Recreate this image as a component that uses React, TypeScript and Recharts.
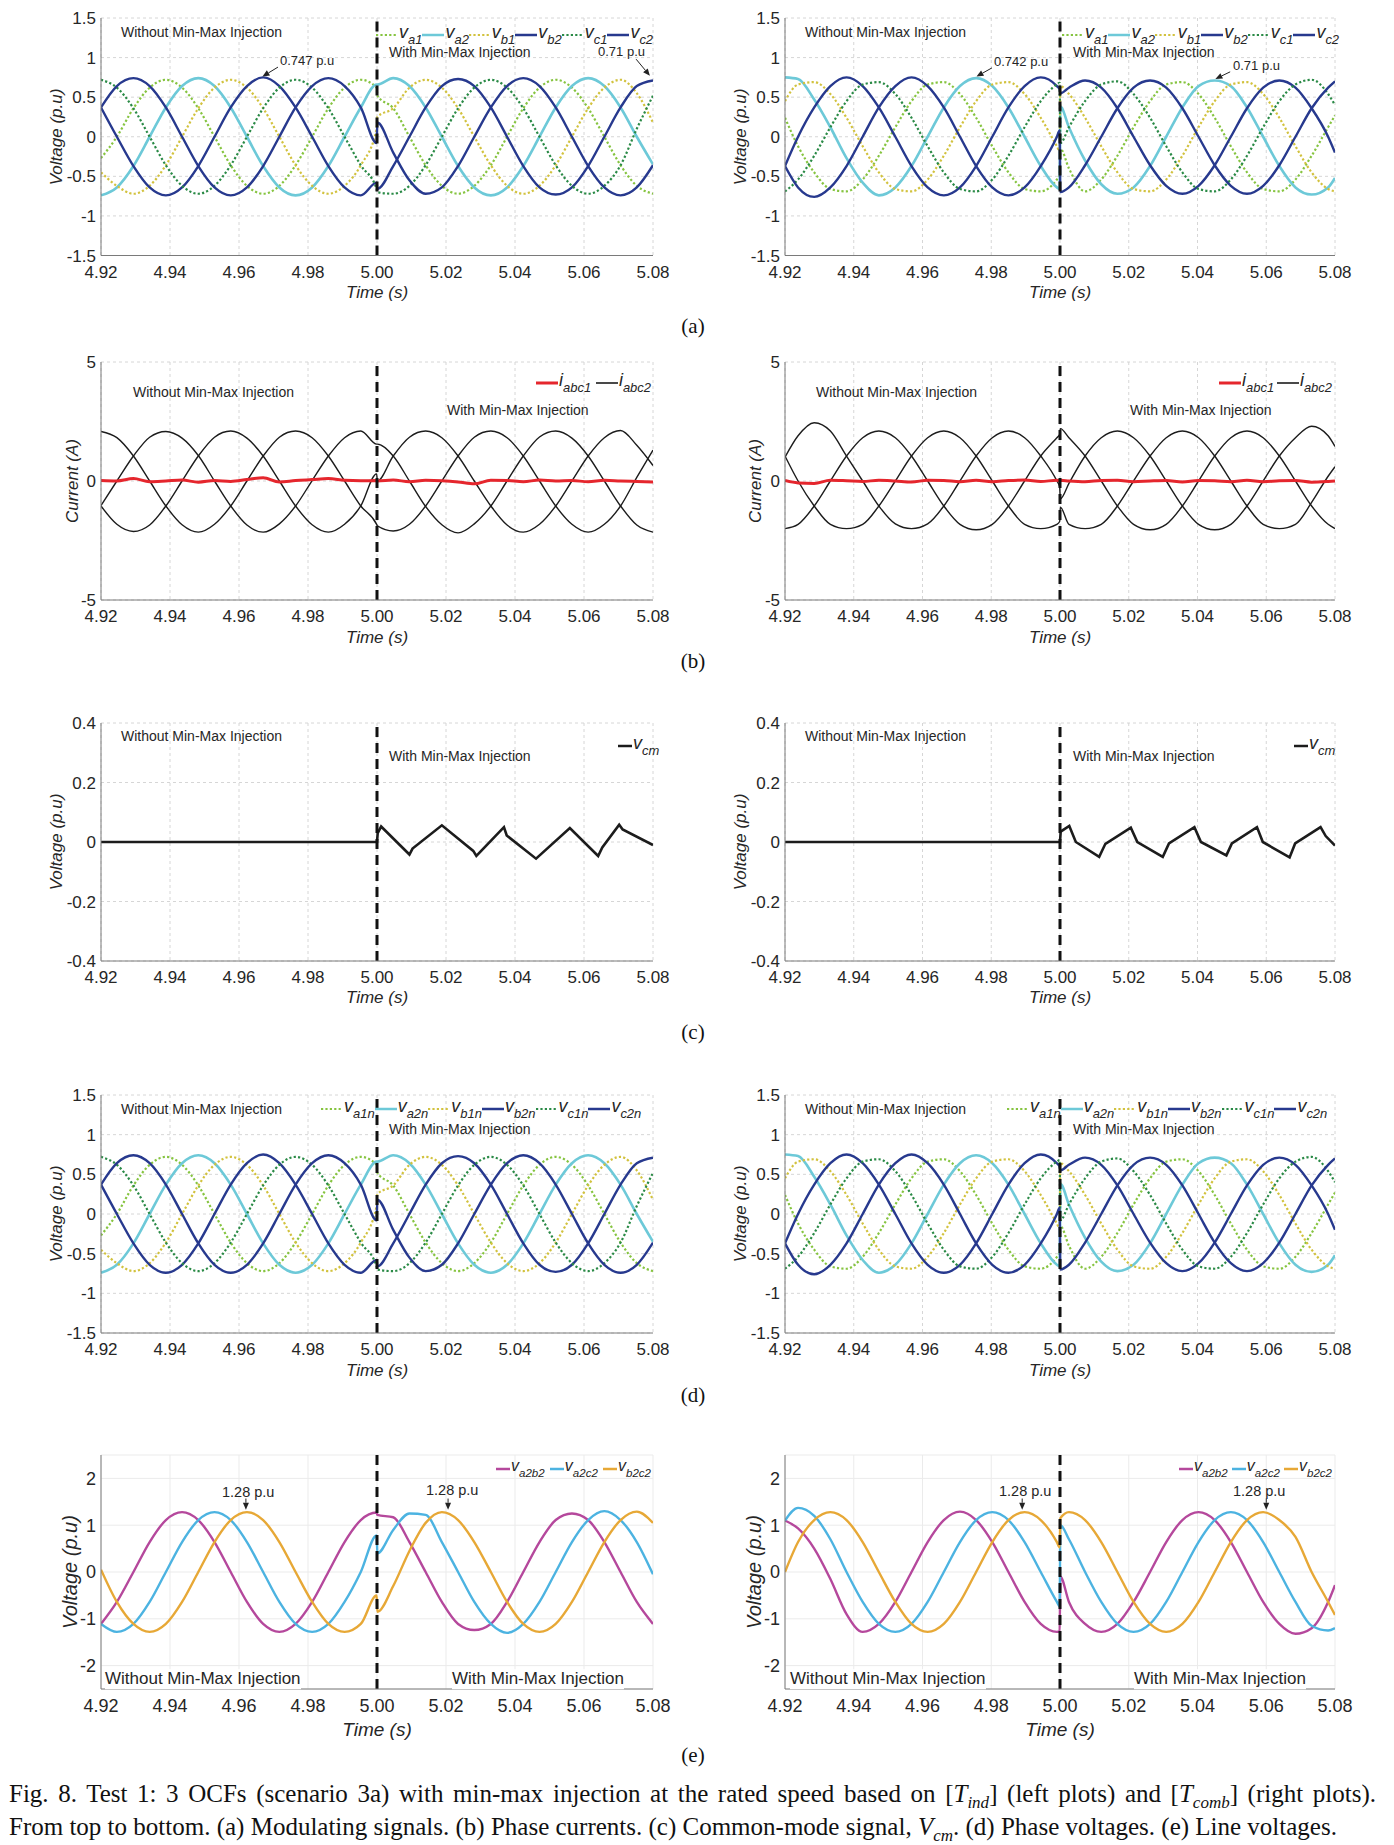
import React from 'react';
import { LineChart, Line, XAxis, YAxis, CartesianGrid, ReferenceLine } from 'recharts';

// axes
const X_TICKS = [4.92, 4.94, 4.96, 4.98, 5.0, 5.02, 5.04, 5.06, 5.08];
const Y_TICKS_V = [-1.5, -1, -0.5, 0, 0.5, 1, 1.5];
const Y_TICKS_I = [-5, 0, 5];
const Y_TICKS_CM = [-0.4, -0.2, 0, 0.2, 0.4];
const Y_TICKS_LL = [-2, -1, 0, 1, 2];

// sample times (about every 30 deg, plus both sides of the 5.00 s switch)
const T_LEFT = [4.92, 4.9246, 4.9294, 4.9341, 4.9388, 4.9435, 4.9482, 4.9529, 4.9576, 4.9623, 4.967, 4.9717, 4.9764, 4.9812, 4.9859, 4.9906, 4.9953, 4.9999, 5.0001, 5.0047, 5.0094, 5.0141, 5.0188, 5.0235, 5.0282, 5.033, 5.0377, 5.0424, 5.0471, 5.0518, 5.0565, 5.0612, 5.0659, 5.0706, 5.0753, 5.08];
const T_RIGHT = [4.92, 4.9238, 4.9285, 4.9332, 4.9379, 4.9426, 4.9473, 4.9521, 4.9568, 4.9615, 4.9662, 4.9709, 4.9756, 4.9803, 4.985, 4.9897, 4.9944, 4.9991, 4.9999, 5.0001, 5.0026, 5.0073, 5.012, 5.0167, 5.0214, 5.0262, 5.0309, 5.0356, 5.0403, 5.045, 5.0497, 5.0544, 5.0591, 5.0638, 5.0685, 5.0732, 5.078, 5.08];

// (a)/(d) modulating signals / phase voltages, [T_ind]
const VA1_L = [-0.27, 0, 0.36, 0.62, 0.72, 0.62, 0.36, 0, -0.36, -0.62, -0.72, -0.62, -0.36, 0, 0.36, 0.62, 0.72, 0.62, 0.52, 0.36, 0, -0.36, -0.62, -0.72, -0.62, -0.36, 0, 0.36, 0.62, 0.72, 0.62, 0.36, 0, -0.36, -0.62, -0.72];
const VA2_L = [-0.74, -0.64, -0.37, 0, 0.37, 0.64, 0.74, 0.64, 0.37, 0, -0.37, -0.64, -0.74, -0.64, -0.37, 0, 0.37, 0.66, 0.66, 0.74, 0.64, 0.37, 0, -0.37, -0.64, -0.74, -0.64, -0.37, 0, 0.37, 0.64, 0.74, 0.64, 0.37, 0, -0.35];
const VB1_L = [-0.45, -0.62, -0.72, -0.62, -0.36, 0, 0.36, 0.62, 0.72, 0.62, 0.36, 0, -0.36, -0.62, -0.72, -0.62, -0.36, 0.1, 0.25, 0.36, 0.62, 0.72, 0.62, 0.36, 0, -0.36, -0.62, -0.72, -0.62, -0.36, 0, 0.36, 0.62, 0.72, 0.55, 0.18];
const VB2_L = [0.37, 0, -0.37, -0.64, -0.74, -0.64, -0.37, 0, 0.37, 0.64, 0.75, 0.64, 0.37, 0, -0.37, -0.64, -0.74, -0.58, -0.66, -0.37, 0, 0.37, 0.64, 0.73, 0.64, 0.37, 0, -0.37, -0.64, -0.73, -0.64, -0.37, 0, 0.37, 0.64, 0.71];
const VC1_L = [0.72, 0.62, 0.36, 0, -0.36, -0.62, -0.72, -0.62, -0.36, 0, 0.36, 0.62, 0.72, 0.62, 0.36, 0, -0.36, -0.66, -0.7, -0.72, -0.62, -0.36, 0, 0.36, 0.62, 0.72, 0.62, 0.36, 0, -0.36, -0.62, -0.72, -0.62, -0.36, 0.1, 0.52];
const VC2_L = [0.37, 0.64, 0.74, 0.64, 0.37, 0, -0.37, -0.64, -0.74, -0.64, -0.37, 0, 0.37, 0.64, 0.74, 0.64, 0.37, -0.08, 0.18, -0.2, -0.55, -0.72, -0.64, -0.37, 0, 0.37, 0.64, 0.74, 0.64, 0.37, 0, -0.37, -0.64, -0.74, -0.64, -0.36];

// (a)/(d) [T_comb]
const VA1_R = [0.24, -0.12, -0.45, -0.66, -0.69, -0.54, -0.24, 0.12, 0.45, 0.66, 0.69, 0.54, 0.24, -0.12, -0.45, -0.66, -0.69, -0.54, -0.49, -0.15, -0.4, -0.69, -0.54, -0.24, 0.12, 0.45, 0.66, 0.69, 0.54, 0.24, -0.12, -0.45, -0.66, -0.69, -0.54, -0.24, 0.12, 0.27];
const VA2_R = [0.75, 0.73, 0.47, 0.12, -0.27, -0.58, -0.74, -0.64, -0.37, 0, 0.37, 0.64, 0.74, 0.64, 0.37, 0, -0.37, -0.64, -0.66, 0.38, 0.12, -0.3, -0.6, -0.72, -0.64, -0.37, 0, 0.37, 0.64, 0.71, 0.64, 0.37, 0, -0.37, -0.64, -0.73, -0.64, -0.52];
const VB1_R = [0.45, 0.66, 0.69, 0.54, 0.24, -0.12, -0.45, -0.66, -0.69, -0.54, -0.24, 0.12, 0.45, 0.66, 0.69, 0.54, 0.24, -0.12, -0.18, 0.64, 0.54, 0.24, -0.12, -0.45, -0.66, -0.69, -0.54, -0.24, 0.12, 0.45, 0.66, 0.69, 0.54, 0.24, -0.12, -0.45, -0.66, -0.69];
const VB2_R = [-0.37, 0, 0.37, 0.64, 0.75, 0.64, 0.37, 0, -0.37, -0.64, -0.74, -0.64, -0.37, 0, 0.37, 0.64, 0.75, 0.64, 0.6, 0.55, 0.62, 0.71, 0.62, 0.36, 0, -0.36, -0.62, -0.72, -0.62, -0.36, 0, 0.36, 0.62, 0.71, 0.62, 0.36, 0, -0.2];
const VC1_R = [-0.69, -0.54, -0.24, 0.12, 0.45, 0.66, 0.69, 0.54, 0.24, -0.12, -0.45, -0.66, -0.69, -0.54, -0.24, 0.12, 0.45, 0.66, 0.68, -0.08, 0.12, 0.45, 0.66, 0.7, 0.54, 0.24, -0.12, -0.45, -0.66, -0.69, -0.54, -0.24, 0.12, 0.45, 0.66, 0.72, 0.54, 0.4];
const VC2_R = [-0.37, -0.64, -0.76, -0.64, -0.37, 0, 0.37, 0.64, 0.75, 0.64, 0.37, 0, -0.37, -0.64, -0.74, -0.64, -0.37, 0, 0.08, -0.7, -0.64, -0.36, 0, 0.36, 0.62, 0.71, 0.62, 0.36, 0, -0.36, -0.62, -0.72, -0.62, -0.36, 0, 0.36, 0.62, 0.7];

// (b) phase currents
const IR_L = [0.02, 0, 0.1, -0.03, 0, 0.04, -0.05, 0.02, -0.02, 0.06, 0.14, -0.04, 0.02, 0.06, 0.1, 0.03, 0.01, 0.02, 0, 0.04, -0.03, 0.03, 0.01, -0.04, -0.12, 0.03, 0.02, -0.03, 0.04, 0, 0.02, -0.03, 0.03, 0, -0.02, -0.04];
const IA_L = [-1.03, 0, 1.05, 1.84, 2.08, 1.8, 1.07, 0, -1.05, -1.85, -2.15, -1.8, -1.05, 0.02, 1.05, 1.82, 2.1, 1.55, 1.55, 1.05, 0, -1.07, -1.84, -2.18, -1.8, -1.05, 0, 1.05, 1.85, 2.1, 1.8, 1.05, 0, -1.05, -1.85, -2.15];
const IB_L = [-1.05, -1.82, -2.12, -1.85, -1.05, 0, 1.05, 1.84, 2.1, 1.8, 1.05, 0, -1.05, -1.84, -2.15, -1.82, -1.05, 0.3, 0, 1.05, 1.84, 2.1, 1.82, 1.05, 0, -1.05, -1.85, -2.15, -1.82, -1.05, 0, 1.05, 1.82, 2.12, 1.5, 0.65];
const IC_L = [2.08, 1.82, 1.05, 0, -1.05, -1.84, -2.15, -1.82, -1.05, 0, 1.05, 1.84, 2.1, 1.82, 1.05, 0, -1.05, -1.82, -1.88, -2.1, -1.82, -1.05, 0, 1.05, 1.84, 2.1, 1.82, 1.05, 0, -1.05, -1.82, -2.15, -1.82, -1.05, 0.15, 1.3];
const IR_R = [0.02, -0.08, -0.1, 0.03, 0.01, -0.02, 0.03, 0, -0.04, 0.03, 0.02, -0.03, 0.03, -0.03, 0.02, 0.04, -0.02, 0.03, 0.02, 0.03, 0, -0.03, 0.02, 0.03, -0.03, 0, 0.02, -0.04, 0.02, 0.01, -0.03, 0.03, -0.03, 0.01, 0.02, -0.05, -0.02, 0];
const IA_R = [1.0, 1.9, 2.45, 2.1, 1.05, 0, -1.05, -1.8, -2.0, -1.8, -1.05, 0, 1.05, 1.82, 2.1, 1.82, 1.05, 0, -0.25, -0.75, -0.1, 1.05, 1.82, 2.1, 1.82, 1.05, 0, -1.05, -1.82, -2.05, -1.82, -1.05, 0, 1.05, 1.82, 2.3, 1.9, 1.45];
const IB_R = [-2.0, -1.82, -1.05, 0, 1.05, 1.82, 2.1, 1.82, 1.05, 0, -1.05, -1.82, -2.05, -1.82, -1.05, 0, 1.05, 1.82, 1.95, 2.2, 1.82, 1.05, 0, -1.05, -1.82, -2.05, -1.82, -1.05, 0, 1.05, 1.82, 2.1, 1.82, 1.05, 0, -1.05, -1.82, -2.0];
const IC_R = [1.05, 0, -1.05, -1.82, -2.0, -1.82, -1.05, 0, 1.05, 1.82, 2.1, 1.82, 1.05, 0, -1.05, -1.82, -2.0, -1.82, -1.7, -1.1, -1.82, -2.0, -1.82, -1.05, 0, 1.05, 1.82, 2.1, 1.82, 1.05, 0, -1.05, -1.82, -2.0, -1.82, -0.9, 0.2, 0.6];

// (c) common-mode signal (own time breakpoints)
const T_CM_L = [4.92, 5.0, 5.0002, 5.0012, 5.0094, 5.0103, 5.0188, 5.0279, 5.0288, 5.0368, 5.0376, 5.0461, 5.0559, 5.0641, 5.0653, 5.0702, 5.0712, 5.08];
const VCM_L = [0, 0, 0.03, 0.052, -0.042, -0.022, 0.056, -0.03, -0.047, 0.05, 0.022, -0.056, 0.047, -0.047, -0.018, 0.058, 0.042, -0.01];
const T_CM_R = [4.92, 5.0, 5.0002, 5.0027, 5.0046, 5.0114, 5.0132, 5.0206, 5.0225, 5.0299, 5.0317, 5.0391, 5.041, 5.0484, 5.05, 5.0573, 5.059, 5.0668, 5.0684, 5.0758, 5.0773, 5.08];
const VCM_R = [0, 0, 0.035, 0.054, 0.0, -0.05, -0.006, 0.048, 0.0, -0.05, -0.005, 0.05, 0.0, -0.045, -0.005, 0.05, 0.0, -0.052, -0.005, 0.05, 0.02, -0.012];

// (e) line voltages
const VAB_L = [-1.11, -0.64, 0, 0.64, 1.11, 1.28, 1.11, 0.64, 0, -0.64, -1.11, -1.28, -1.11, -0.64, 0, 0.64, 1.11, 1.27, 1.22, 1.17, 0.64, 0, -0.64, -1.11, -1.24, -1.11, -0.64, 0, 0.64, 1.11, 1.25, 1.11, 0.64, 0, -0.64, -1.11];
const VAC_L = [-1.11, -1.28, -1.11, -0.64, 0, 0.64, 1.11, 1.28, 1.11, 0.64, 0, -0.64, -1.11, -1.28, -1.11, -0.64, 0, 0.78, 0.4, 0.9, 1.25, 1.22, 0.64, 0, -0.64, -1.11, -1.3, -1.11, -0.64, 0, 0.64, 1.11, 1.3, 1.11, 0.64, -0.05];
const VBC_L = [0.05, -0.64, -1.11, -1.28, -1.11, -0.64, 0, 0.64, 1.11, 1.28, 1.11, 0.64, 0, -0.64, -1.11, -1.28, -1.11, -0.5, -0.85, -0.3, 0.45, 1.05, 1.28, 1.11, 0.64, 0, -0.64, -1.11, -1.28, -1.11, -0.64, 0, 0.64, 1.11, 1.29, 1.05];
const VAB_R = [1.1, 0.93, 0.5, -0.15, -0.9, -1.28, -1.11, -0.64, 0, 0.64, 1.11, 1.29, 1.11, 0.64, 0, -0.64, -1.11, -1.28, -1.27, -0.1, -0.64, -1.11, -1.28, -1.11, -0.64, 0, 0.64, 1.11, 1.28, 1.11, 0.64, 0, -0.64, -1.11, -1.32, -1.2, -0.64, -0.28];
const VAC_R = [1.1, 1.37, 1.2, 0.7, 0, -0.64, -1.11, -1.28, -1.11, -0.64, 0, 0.64, 1.11, 1.28, 1.11, 0.64, 0, -0.64, -0.74, 1.0, 0.7, 0, -0.64, -1.11, -1.28, -1.11, -0.64, 0, 0.64, 1.11, 1.28, 1.11, 0.64, 0, -0.64, -1.15, -1.25, -1.2];
const VBC_R = [0, 0.64, 1.11, 1.28, 1.11, 0.64, 0, -0.64, -1.11, -1.28, -1.11, -0.64, 0, 0.64, 1.11, 1.28, 1.11, 0.64, 0.53, 1.15, 1.28, 1.11, 0.64, 0, -0.64, -1.11, -1.28, -1.11, -0.64, 0, 0.64, 1.11, 1.28, 1.11, 0.75, 0, -0.64, -0.92];

const COL = {
  a1: '#86c440',
  a2: '#6dc9d8',
  b1: '#d2c23e',
  b2: '#27398e',
  c1: '#2a8a46',
  c2: '#27398e',
  red: '#e5262d',
  black: '#1c1c1c',
  ab: '#b5489c',
  ac: '#4cb3e1',
  bc: '#e7a836',
};

function table(t: number[], cols: Record<string, number[]>) {
  return t.map((v, i) => {
    const row: Record<string, number> = { t: v };
    Object.keys(cols).forEach((k) => {
      row[k] = cols[k][i];
    });
    return row;
  });
}

const DATA_VL = table(T_LEFT, { a1: VA1_L, a2: VA2_L, b1: VB1_L, b2: VB2_L, c1: VC1_L, c2: VC2_L });
const DATA_VR = table(T_RIGHT, { a1: VA1_R, a2: VA2_R, b1: VB1_R, b2: VB2_R, c1: VC1_R, c2: VC2_R });
const DATA_IL = table(T_LEFT, { r: IR_L, ia: IA_L, ib: IB_L, ic: IC_L });
const DATA_IR = table(T_RIGHT, { r: IR_R, ia: IA_R, ib: IB_R, ic: IC_R });
const DATA_CML = table(T_CM_L, { cm: VCM_L });
const DATA_CMR = table(T_CM_R, { cm: VCM_R });
const DATA_LL = table(T_LEFT, { ab: VAB_L, ac: VAC_L, bc: VBC_L });
const DATA_LR = table(T_RIGHT, { ab: VAB_R, ac: VAC_R, bc: VBC_R });

// plot boxes in page pixels
const LX = 101;
const LW = 552;
const RX = 785;
const RW = 550;

const ArrowShape = (p: any) => {
  const { x1, y1, x2, y2 } = p;
  if ([x1, y1, x2, y2].some((v) => typeof v !== 'number' || isNaN(v))) return <g />;
  const a = Math.atan2(y2 - y1, x2 - x1);
  const L = 7;
  const W = 3;
  const bx = x2 - L * Math.cos(a);
  const by = y2 - L * Math.sin(a);
  const pts = `${x2},${y2} ${bx + W * Math.sin(a)},${by - W * Math.cos(a)} ${bx - W * Math.sin(a)},${by + W * Math.cos(a)}`;
  return (
    <g>
      <line x1={x1} y1={y1} x2={bx} y2={by} stroke="#222" strokeWidth={1} />
      <polygon points={pts} fill="#222" />
    </g>
  );
};

function arrow(key: string, from: [number, number], to: [number, number]) {
  return (
    <ReferenceLine
      key={key}
      segment={[{ x: from[0], y: from[1] }, { x: to[0], y: to[1] }]}
      shape={ArrowShape}
      ifOverflow="visible"
    />
  );
}

function sig(key: string, color: string, dotted = false, width = 2.4, type: any = 'monotone') {
  return (
    <Line
      key={key}
      dataKey={key}
      type={type}
      stroke={color}
      strokeWidth={dotted ? 2.2 : width}
      strokeDasharray={dotted ? '2.2 2.2' : undefined}
      dot={false}
      activeDot={false}
      isAnimationActive={false}
    />
  );
}

type PanelProps = {
  x: number;
  y: number;
  w: number;
  h: number;
  data: Record<string, number>[];
  yDomain: [number, number];
  yTicks: number[];
  solidGrid?: boolean;
  fontSize?: number;
  children: React.ReactNode;
};

function Panel({ x, y, w, h, data, yDomain, yTicks, solidGrid, fontSize = 17, children }: PanelProps) {
  return (
    <div style={{ position: 'absolute', left: x - 60, top: y - 10 }}>
      <LineChart width={w + 100} height={h + 40} data={data} margin={{ top: 10, right: 40, left: 0, bottom: 0 }}>
        <CartesianGrid
          stroke={solidGrid ? '#ebebeb' : '#d6d6d6'}
          strokeDasharray={solidGrid ? undefined : '3 3'}
        />
        <XAxis
          dataKey="t"
          type="number"
          domain={[4.92, 5.08]}
          ticks={X_TICKS}
          interval={0}
          allowDataOverflow
          tickFormatter={(v: number) => v.toFixed(2)}
          height={30}
          tickLine={false}
          tickSize={0}
          tickMargin={10}
          stroke="#7a7a7a"
          tick={{ fill: '#262626', fontSize }}
        />
        <YAxis
          type="number"
          domain={yDomain}
          ticks={yTicks}
          interval={0}
          allowDataOverflow
          width={60}
          tickLine={false}
          tickSize={0}
          tickMargin={5}
          stroke="#7a7a7a"
          tick={{ fill: '#262626', fontSize }}
        />
        {children}
        <ReferenceLine x={5} stroke="#111" strokeWidth={3} strokeDasharray="10 6" />
      </LineChart>
    </div>
  );
}

function Txt({ x, cy, size = 14, italic, bg, center, children }: any) {
  return (
    <div
      style={{
        position: 'absolute',
        left: x,
        top: cy,
        transform: center ? 'translate(-50%, -50%)' : 'translateY(-50%)',
        fontSize: size,
        fontStyle: italic ? 'italic' : 'normal',
        lineHeight: 1.15,
        whiteSpace: 'nowrap',
        background: bg,
        color: '#262626',
      }}
    >
      {children}
    </div>
  );
}

function YTitle({ cx, cy, size = 17, children }: any) {
  return (
    <div
      style={{
        position: 'absolute',
        left: cx,
        top: cy,
        transform: 'translate(-50%, -50%) rotate(-90deg)',
        fontSize: size,
        fontStyle: 'italic',
        whiteSpace: 'nowrap',
        color: '#262626',
        lineHeight: 1,
      }}
    >
      {children}
    </div>
  );
}

type LegItem = { sym: string; sub: string; color: string; dotted?: boolean; width?: number };

function Legend({ x1, x2, cy, items, len = 22, size = 18 }: { x1: number; x2: number; cy: number; items: LegItem[]; len?: number; size?: number }) {
  return (
    <div
      style={{
        position: 'absolute',
        left: x1,
        top: cy,
        width: x2 - x1,
        transform: 'translateY(-50%)',
        display: 'flex',
        justifyContent: 'space-between',
        alignItems: 'center',
        color: '#262626',
      }}
    >
      {items.map((it) => (
        <div key={it.sub} style={{ display: 'flex', alignItems: 'center' }}>
          <svg width={len} height={6}>
            <line
              x1={0}
              y1={3}
              x2={len}
              y2={3}
              stroke={it.color}
              strokeWidth={it.width ?? (it.dotted ? 2.2 : 2.5)}
              strokeDasharray={it.dotted ? '2.2 2.2' : undefined}
            />
          </svg>
          <span style={{ fontStyle: 'italic', fontSize: size, lineHeight: 1, marginLeft: 1, position: 'relative', top: -3 }}>
            {it.sym}
            <span style={{ fontSize: size * 0.72, position: 'relative', top: 6 }}>{it.sub}</span>
          </span>
        </div>
      ))}
    </div>
  );
}

const LEG_A: LegItem[] = [
  { sym: 'v', sub: 'a1', color: COL.a1, dotted: true },
  { sym: 'v', sub: 'a2', color: COL.a2 },
  { sym: 'v', sub: 'b1', color: COL.b1, dotted: true },
  { sym: 'v', sub: 'b2', color: COL.b2 },
  { sym: 'v', sub: 'c1', color: COL.c1, dotted: true },
  { sym: 'v', sub: 'c2', color: COL.c2 },
];
const LEG_D: LegItem[] = LEG_A.map((it) => ({ ...it, sub: it.sub + 'n' }));
const LEG_B: LegItem[] = [
  { sym: 'i', sub: 'abc1', color: COL.red, width: 3 },
  { sym: 'i', sub: 'abc2', color: COL.black, width: 1.6 },
];
const LEG_C: LegItem[] = [{ sym: 'v', sub: 'cm', color: COL.black, width: 2.5 }];
const LEG_E: LegItem[] = [
  { sym: 'v', sub: 'a2b2', color: COL.ab },
  { sym: 'v', sub: 'a2c2', color: COL.ac },
  { sym: 'v', sub: 'b2c2', color: COL.bc },
];

function sixLines() {
  return [
    sig('a1', COL.a1, true),
    sig('a2', COL.a2, false, 2.6),
    sig('b1', COL.b1, true),
    sig('b2', COL.b2, false, 2.4),
    sig('c1', COL.c1, true),
    sig('c2', COL.c2, false, 2.4),
  ];
}

function currentLines() {
  return [
    sig('ia', COL.black, false, 1.4),
    sig('ib', COL.black, false, 1.4),
    sig('ic', COL.black, false, 1.4),
    sig('r', COL.red, false, 3),
  ];
}

function lineLines() {
  return [sig('ab', COL.ab, false, 2.4), sig('ac', COL.ac, false, 2.4), sig('bc', COL.bc, false, 2.4)];
}

const ROWS = {
  a: { y: 18, h: 237.5, time: 293, letter: 326 },
  b: { y: 362, h: 238, time: 637.6, letter: 661 },
  c: { y: 723, h: 238, time: 997.6, letter: 1032 },
  d: { y: 1095, h: 238, time: 1370.5, letter: 1395 },
  e: { y: 1455, h: 234, time: 1730, letter: 1755 },
};

const CAPTION: React.CSSProperties = {
  position: 'absolute',
  left: 9,
  fontFamily: '"Liberation Serif", "Times New Roman", serif',
  fontSize: 25,
  lineHeight: '33px',
  color: '#111',
  whiteSpace: 'nowrap',
};
const SUB: React.CSSProperties = { fontStyle: 'italic', fontSize: 17 };

export default function App() {
  const midL = LX + LW / 2;
  const midR = RX + RW / 2;
  return (
    <div
      style={{
        position: 'absolute',
        left: 0,
        top: 0,
        width: 1394,
        height: 1845,
        background: '#fff',
        overflow: 'hidden',
        fontFamily: '"Liberation Sans", Arial, Helvetica, sans-serif',
      }}
    >
      {/* (a) modulating signals */}
      <Panel x={LX} y={ROWS.a.y} w={LW} h={ROWS.a.h} data={DATA_VL} yDomain={[-1.5, 1.5]} yTicks={Y_TICKS_V}>
        {sixLines()}
        {arrow('a1', [4.9713, 0.88], [4.9668, 0.76])}
        {arrow('a2', [5.0751, 0.98], [5.0791, 0.77])}
      </Panel>
      <Panel x={RX} y={ROWS.a.y} w={RW} h={ROWS.a.h} data={DATA_VR} yDomain={[-1.5, 1.5]} yTicks={Y_TICKS_V}>
        {sixLines()}
        {arrow('a3', [4.9802, 0.87], [4.9757, 0.76])}
        {arrow('a4', [5.0495, 0.82], [5.0452, 0.73])}
      </Panel>

      {/* (b) phase currents */}
      <Panel x={LX} y={ROWS.b.y} w={LW} h={ROWS.b.h} data={DATA_IL} yDomain={[-5, 5]} yTicks={Y_TICKS_I}>
        {currentLines()}
      </Panel>
      <Panel x={RX} y={ROWS.b.y} w={RW} h={ROWS.b.h} data={DATA_IR} yDomain={[-5, 5]} yTicks={Y_TICKS_I}>
        {currentLines()}
      </Panel>

      {/* (c) common-mode signal */}
      <Panel x={LX} y={ROWS.c.y} w={LW} h={ROWS.c.h} data={DATA_CML} yDomain={[-0.4, 0.4]} yTicks={Y_TICKS_CM}>
        {sig('cm', COL.black, false, 2.6, 'linear')}
      </Panel>
      <Panel x={RX} y={ROWS.c.y} w={RW} h={ROWS.c.h} data={DATA_CMR} yDomain={[-0.4, 0.4]} yTicks={Y_TICKS_CM}>
        {sig('cm', COL.black, false, 2.6, 'linear')}
      </Panel>

      {/* (d) phase voltages */}
      <Panel x={LX} y={ROWS.d.y} w={LW} h={ROWS.d.h} data={DATA_VL} yDomain={[-1.5, 1.5]} yTicks={Y_TICKS_V}>
        {sixLines()}
      </Panel>
      <Panel x={RX} y={ROWS.d.y} w={RW} h={ROWS.d.h} data={DATA_VR} yDomain={[-1.5, 1.5]} yTicks={Y_TICKS_V}>
        {sixLines()}
      </Panel>

      {/* (e) line voltages */}
      <Panel x={LX} y={ROWS.e.y} w={LW} h={ROWS.e.h} data={DATA_LL} yDomain={[-2.5, 2.5]} yTicks={Y_TICKS_LL} solidGrid fontSize={18}>
        {lineLines()}
        {arrow('e1', [4.962, 1.57], [4.962, 1.33])}
        {arrow('e2', [5.0206, 1.57], [5.0206, 1.33])}
      </Panel>
      <Panel x={RX} y={ROWS.e.y} w={RW} h={ROWS.e.h} data={DATA_LR} yDomain={[-2.5, 2.5]} yTicks={Y_TICKS_LL} solidGrid fontSize={18}>
        {lineLines()}
        {arrow('e3', [4.989, 1.57], [4.989, 1.33])}
        {arrow('e4', [5.06, 1.57], [5.06, 1.33])}
      </Panel>

      {/* axis titles and panel letters */}
      {(['a', 'b', 'c', 'd', 'e'] as const).map((r) => (
        <React.Fragment key={r}>
          <Txt x={midL} cy={ROWS[r].time} size={r === 'e' ? 19 : 17} italic center>Time (s)</Txt>
          <Txt x={midR} cy={ROWS[r].time} size={r === 'e' ? 19 : 17} italic center>Time (s)</Txt>
          <div
            style={{
              position: 'absolute',
              left: 693,
              top: ROWS[r].letter,
              transform: 'translate(-50%, -50%)',
              fontFamily: '"Liberation Serif", "Times New Roman", serif',
              fontSize: 21,
              color: '#111',
            }}
          >
            ({r})
          </div>
        </React.Fragment>
      ))}
      <YTitle cx={56} cy={ROWS.a.y + ROWS.a.h / 2}>Voltage (p.u)</YTitle>
      <YTitle cx={740} cy={ROWS.a.y + ROWS.a.h / 2}>Voltage (p.u)</YTitle>
      <YTitle cx={72} cy={ROWS.b.y + ROWS.b.h / 2}>Current (A)</YTitle>
      <YTitle cx={755} cy={ROWS.b.y + ROWS.b.h / 2}>Current (A)</YTitle>
      <YTitle cx={56} cy={ROWS.c.y + ROWS.c.h / 2}>Voltage (p.u)</YTitle>
      <YTitle cx={740} cy={ROWS.c.y + ROWS.c.h / 2}>Voltage (p.u)</YTitle>
      <YTitle cx={56} cy={ROWS.d.y + ROWS.d.h / 2}>Voltage (p.u)</YTitle>
      <YTitle cx={740} cy={ROWS.d.y + ROWS.d.h / 2}>Voltage (p.u)</YTitle>
      <YTitle cx={70} cy={ROWS.e.y + ROWS.e.h / 2} size={20}>Voltage (p.u)</YTitle>
      <YTitle cx={754} cy={ROWS.e.y + ROWS.e.h / 2} size={20}>Voltage (p.u)</YTitle>

      {/* annotations (a) */}
      <Txt x={121} cy={32}>Without Min-Max Injection</Txt>
      <Txt x={389} cy={52}>With Min-Max Injection</Txt>
      <Txt x={280} cy={61} size={13}>0.747 p.u</Txt>
      <Txt x={598} cy={52} size={13}>0.71 p.u</Txt>
      <Legend x1={376} x2={650} cy={35} items={LEG_A} />
      <Txt x={805} cy={32}>Without Min-Max Injection</Txt>
      <Txt x={1073} cy={52}>With Min-Max Injection</Txt>
      <Txt x={994} cy={62} size={13}>0.742 p.u</Txt>
      <Txt x={1233} cy={66} size={13}>0.71 p.u</Txt>
      <Legend x1={1062} x2={1335} cy={35} items={LEG_A} />

      {/* annotations (b) */}
      <Txt x={133} cy={392}>Without Min-Max Injection</Txt>
      <Txt x={447} cy={410}>With Min-Max Injection</Txt>
      <Legend x1={536} x2={651} cy={383} items={LEG_B} len={22} />
      <Txt x={816} cy={392}>Without Min-Max Injection</Txt>
      <Txt x={1130} cy={410}>With Min-Max Injection</Txt>
      <Legend x1={1219} x2={1332} cy={383} items={LEG_B} len={22} />

      {/* annotations (c) */}
      <Txt x={121} cy={736}>Without Min-Max Injection</Txt>
      <Txt x={389} cy={756}>With Min-Max Injection</Txt>
      <Legend x1={618} x2={651} cy={746} items={LEG_C} len={14} />
      <Txt x={805} cy={736}>Without Min-Max Injection</Txt>
      <Txt x={1073} cy={756}>With Min-Max Injection</Txt>
      <Legend x1={1294} x2={1329} cy={746} items={LEG_C} len={14} />

      {/* annotations (d) */}
      <Txt x={121} cy={1109}>Without Min-Max Injection</Txt>
      <Txt x={389} cy={1129}>With Min-Max Injection</Txt>
      <Legend x1={321} x2={635} cy={1109} items={LEG_D} />
      <Txt x={805} cy={1109}>Without Min-Max Injection</Txt>
      <Txt x={1073} cy={1129}>With Min-Max Injection</Txt>
      <Legend x1={1007} x2={1318} cy={1109} items={LEG_D} />

      {/* annotations (e) */}
      <Txt x={105} cy={1679} size={17} bg="#fff">Without Min-Max Injection</Txt>
      <Txt x={452} cy={1679} size={17} bg="#fff">With Min-Max Injection</Txt>
      <Txt x={222} cy={1492} size={14.5}>1.28 p.u</Txt>
      <Txt x={426} cy={1490} size={14.5}>1.28 p.u</Txt>
      <Legend x1={496} x2={651} cy={1469} items={LEG_E} len={14} size={16} />
      <Txt x={790} cy={1679} size={17} bg="#fff">Without Min-Max Injection</Txt>
      <Txt x={1134} cy={1679} size={17} bg="#fff">With Min-Max Injection</Txt>
      <Txt x={999} cy={1491} size={14.5}>1.28 p.u</Txt>
      <Txt x={1233} cy={1491} size={14.5}>1.28 p.u</Txt>
      <Legend x1={1179} x2={1332} cy={1469} items={LEG_E} len={14} size={16} />

      {/* caption */}
      <div style={{ ...CAPTION, top: 1777, width: 1367, textAlign: 'justify', textAlignLast: 'justify' }}>
        Fig. 8. Test 1: 3 OCFs (scenario 3a) with min-max injection at the rated speed based on [<i>T</i>
        <sub style={SUB}>ind</sub>] (left plots) and [<i>T</i>
        <sub style={SUB}>comb</sub>] (right plots).
      </div>
      <div style={{ ...CAPTION, top: 1810 }}>
        From top to bottom. (a) Modulating signals. (b) Phase currents. (c) Common-mode signal, <i>V</i>
        <sub style={SUB}>cm</sub>. (d) Phase voltages. (e) Line voltages.
      </div>
    </div>
  );
}
